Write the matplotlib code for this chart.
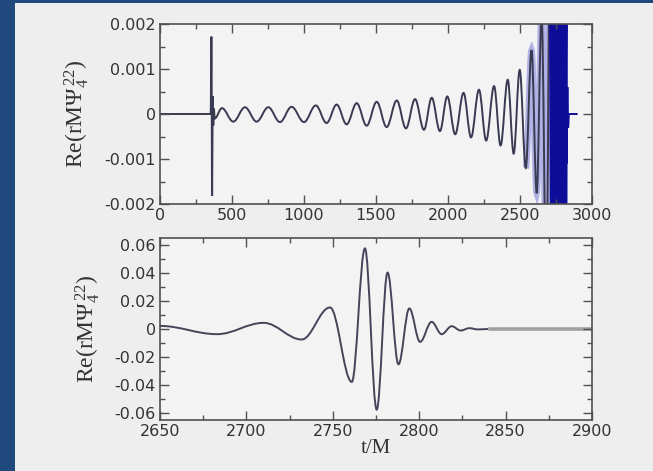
import matplotlib
matplotlib.use("Agg")
import matplotlib.pyplot as plt
from matplotlib.path import Path
from matplotlib.patches import PathPatch, Rectangle
from matplotlib.ticker import MultipleLocator

plt.rcParams["axes.unicode_minus"] = False
plt.rcParams["mathtext.fontset"] = "stix"

# Successive turning points of Re(rM Psi_4^22) versus t/M
t_ext = [0, 352, 357, 362, 366, 370, 374, 380,
         430, 509, 590, 671, 752, 833, 914, 1000, 1082, 1157, 1227, 1296,
         1366, 1435, 1505, 1574, 1644, 1708, 1771, 1833, 1887, 1944, 1995,
         2050, 2108, 2160, 2215, 2265, 2320, 2365, 2415, 2456, 2498, 2540,
         2580, 2616, 2650, 2683, 2710, 2732, 2748.4, 2761, 2768.6, 2775.4,
         2781.7, 2788, 2794.3, 2800.5, 2807.2, 2813, 2818.8, 2824, 2829,
         2834, 2840, 2900]
v_ext = [0, 0, 0.00172, -0.00182, 0.0004, -0.00025, 0.00012, -0.0001,
         0.00013, -0.00017, 0.00015, -0.00017, 0.00015, -0.00018, 0.00016,
         -0.00018, 0.00019, -0.0002, 0.00021, -0.00023, 0.00024, -0.00026,
         0.00027, -0.00029, 0.0003, -0.00032, 0.00033, -0.00035, 0.00036,
         -0.00038, 0.00039, -0.00045, 0.00047, -0.00052, 0.00054, -0.00059,
         0.00062, -0.0007, 0.00076, -0.00088, 0.00098, -0.0012, 0.00142,
         -0.00176, 0.0022, -0.0037, 0.0044, -0.0075, 0.0154, -0.0378, 0.0576,
         -0.0576, 0.0403, -0.0252, 0.0147, -0.0092, 0.0051, -0.0037, 0.002,
         -0.0011, 0.0006, -0.0003, 0, 0]

top_xticks = [0, 500, 1000, 1500, 2000, 2500, 3000]
top_xlabels = ["0", "500", "1000", "1500", "2000", "2500", "3000"]
top_yticks = [-0.002, -0.001, 0, 0.001, 0.002]
top_ylabels = ["-0.002", "-0.001", "0", "0.001", "0.002"]
bot_xticks = [2650, 2700, 2750, 2800, 2850, 2900]
bot_xlabels = ["2650", "2700", "2750", "2800", "2850", "2900"]
bot_yticks = [-0.06, -0.04, -0.02, 0, 0.02, 0.04, 0.06]
bot_ylabels = ["-0.06", "-0.04", "-0.02", "0", "0.02", "0.04", "0.06"]

ylabel_text = r"Re(rM$\mathregular{\Psi_4^{\,22}}$)"


def wave_path(ts, vs, k=0.364):
    """Smooth curve through turning points: cubic pieces with flat ends."""
    verts = [(ts[0], vs[0])]
    codes = [Path.MOVETO]
    for i in range(len(ts) - 1):
        t0, v0, t1, v1 = ts[i], vs[i], ts[i + 1], vs[i + 1]
        d = (t1 - t0) * k
        verts += [(t0 + d, v0), (t1 - d, v1), (t1, v1)]
        codes += [Path.CURVE4] * 3
    return Path(verts, codes)


def seg(a, b):
    i0 = t_ext.index(a)
    i1 = t_ext.index(b)
    return wave_path(t_ext[i0:i1 + 1], v_ext[i0:i1 + 1])


bg = "#eeeeee"
frame_blue = "#204a7d"
spine_c = "#505050"
text_c = "#333333"

fig = plt.figure(figsize=(6.53, 4.71), dpi=100, facecolor=bg)
fig.patches.append(Rectangle((0, 0), 15 / 653, 1, transform=fig.transFigure,
                             facecolor=frame_blue, edgecolor="none", zorder=0))
fig.patches.append(Rectangle((0, 1 - 3 / 471), 1, 3 / 471, transform=fig.transFigure,
                             facecolor=frame_blue, edgecolor="none", zorder=0))

ax1 = fig.add_axes([160 / 653, 1 - 204 / 471, 432 / 653, 180 / 471])
ax2 = fig.add_axes([160 / 653, 1 - 420 / 471, 432 / 653, 182 / 471])

for ax in (ax1, ax2):
    ax.set_facecolor("#f3f3f3")
    for s in ax.spines.values():
        s.set_color(spine_c)
        s.set_linewidth(1.2)
    ax.tick_params(which="both", direction="in", top=True, right=True,
                   color=spine_c, width=1.0, labelsize=11.5, pad=3,
                   labelcolor=text_c)
    ax.tick_params(which="major", length=6.5)
    ax.tick_params(which="minor", length=3.5)

# full run
line_c = "#3a3a52"
ax1.add_patch(PathPatch(seg(2540, 2710), fill=False, edgecolor="#b0b0e4",
                        lw=4.5, capstyle="butt"))
ax1.add_patch(PathPatch(seg(0, 2710), fill=False, edgecolor=line_c, lw=1.4))
ax1.add_patch(PathPatch(seg(2710, 2818.8), fill=False, edgecolor="#0d0d9a", lw=3.0))
ax1.add_patch(PathPatch(seg(2818.8, 2900), fill=False, edgecolor="#0d0d9a", lw=1.4))
ax1.set_xlim(0, 3000)
ax1.set_ylim(-0.002, 0.002)
ax1.set_xticks(top_xticks, top_xlabels)
ax1.set_yticks(top_yticks, top_ylabels)
ax1.xaxis.set_minor_locator(MultipleLocator(250))
ax1.yaxis.set_minor_locator(MultipleLocator(0.0005))
ax1.set_ylabel(ylabel_text, family="Liberation Serif", fontsize=17, color=text_c)
ax1.yaxis.set_label_coords(-0.16, 0.5)

# merger and ringdown
ax2.add_patch(PathPatch(seg(2540, 2840), fill=False, edgecolor="#44445a", lw=1.4))
ax2.add_patch(PathPatch(seg(2840, 2900), fill=False, edgecolor="#a0a0a0", lw=2.6))
ax2.set_xlim(2650, 2900)
ax2.set_ylim(-0.065, 0.065)
ax2.set_xticks(bot_xticks, bot_xlabels)
ax2.set_yticks(bot_yticks, bot_ylabels)
ax2.xaxis.set_minor_locator(MultipleLocator(25))
ax2.yaxis.set_minor_locator(MultipleLocator(0.01))
ax2.set_ylabel(ylabel_text, family="Liberation Serif", fontsize=17, color=text_c)
ax2.yaxis.set_label_coords(-0.135, 0.5)
ax2.set_xlabel("t/M", family="Liberation Serif", fontsize=15, color=text_c,
               labelpad=0)

fig.savefig("out.png", dpi=100, facecolor=bg)
